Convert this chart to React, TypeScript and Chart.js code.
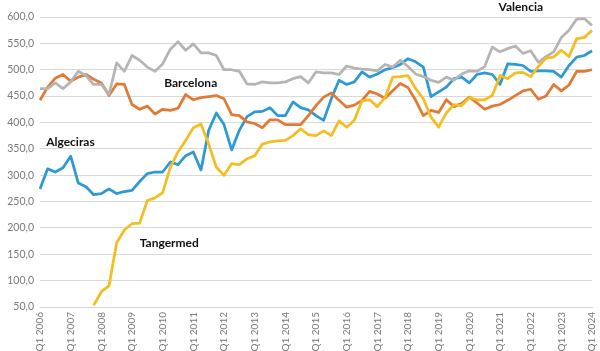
import React, { useEffect, useRef } from "react";
import { Chart, registerables } from "chart.js";

Chart.register(...registerables);

const years = [2006, 2007, 2008, 2009, 2010, 2011, 2012, 2013, 2014, 2015, 2016, 2017, 2018, 2019, 2020, 2021, 2022, 2023, 2024];
const quarterNames = ["Q1", "Q2", "Q3", "Q4"];
const categories: string[] = [];
years.forEach((y) => {
  quarterNames.forEach((q) => {
    if (y < 2024 || q === "Q1") categories.push(q + " " + y);
  });
});

const algeciras = [274, 312, 306, 314, 336, 285, 278, 263, 265, 274, 265, 269, 271, 288, 303, 306, 306, 325, 320, 337, 344, 310, 385, 418, 396, 348, 385, 411, 420, 421, 428, 413, 413, 439, 428, 424, 413, 404, 445, 480, 472, 477, 496, 486, 492, 500, 504, 510, 521, 515, 505, 449, 458, 467, 483, 486, 475, 491, 494, 491, 472, 511, 510, 508, 497, 498, 498, 497, 486, 508, 524, 527, 536];
const barcelona = [442, 467, 484, 491, 478, 486, 491, 482, 475, 451, 473, 472, 434, 425, 431, 416, 425, 423, 427, 453, 443, 447, 449, 451, 445, 415, 413, 401, 398, 390, 405, 405, 396, 396, 396, 413, 432, 448, 456, 442, 429, 433, 442, 459, 454, 446, 460, 474, 466, 442, 413, 423, 419, 443, 430, 436, 448, 437, 425, 431, 434, 442, 451, 460, 463, 444, 450, 472, 460, 471, 497, 497, 500];
const valencia = [464, 464, 475, 464, 477, 497, 489, 472, 472, 453, 513, 497, 527, 518, 505, 497, 511, 539, 553, 537, 549, 532, 532, 527, 500, 500, 497, 473, 472, 477, 475, 475, 477, 483, 487, 475, 496, 494, 494, 491, 507, 503, 501, 500, 498, 510, 505, 518, 506, 492, 487, 480, 476, 486, 480, 492, 498, 497, 506, 543, 534, 540, 545, 531, 536, 514, 525, 534, 561, 575, 596, 597, 584];
const tangermed = [null, null, null, null, null, null, null, 53, 79, 90, 172, 196, 208, 209, 252, 257, 267, 315, 344, 366, 390, 397, 359, 315, 300, 322, 320, 331, 337, 359, 363, 365, 366, 375, 388, 377, 375, 384, 375, 403, 391, 404, 441, 443, 430, 447, 486, 487, 489, 464, 445, 410, 391, 418, 434, 432, 447, 443, 443, 451, 489, 483, 494, 495, 487, 506, 522, 524, 537, 525, 559, 561, 575];

const yMin = 50;
const yMax = 600;
const yStep = 50;

// series label annotations: [text, category index, value]
const seriesLabels: [string, number, number][] = [
  ["Algeciras", 0.8, 363],
  ["Barcelona", 16.2, 474],
  ["Valencia", 59.8, 619],
  ["Tangermed", 13.0, 171],
];

const labelPlugin = {
  id: "seriesLabels",
  afterDraw(chart: any) {
    const ctx = chart.ctx;
    const xs = chart.scales.x;
    const ys = chart.scales.y;
    ctx.save();
    ctx.font = "bold 12px Lato";
    ctx.fillStyle = "#111111";
    ctx.textAlign = "left";
    ctx.textBaseline = "middle";
    seriesLabels.forEach(([t, i, v]) => {
      ctx.fillText(t, xs.getPixelForValue(i), ys.getPixelForValue(v));
    });
    ctx.restore();
  },
};

export default function App() {
  const ref = useRef<HTMLCanvasElement | null>(null);
  useEffect(() => {
    if (!ref.current) return;
    const line = (label: string, data: any[], color: string, order: number) => ({
      label,
      data,
      borderColor: color,
      backgroundColor: color,
      borderWidth: 2.75,
      pointRadius: 0,
      tension: 0,
      borderJoinStyle: "round" as const,
      spanGaps: false,
      order,
    });
    const chart = new Chart(ref.current, {
      type: "line",
      data: {
        labels: categories,
        datasets: [
          line("Algeciras", algeciras, "#2E9AD3", 3),
          line("Barcelona", barcelona, "#E27935", 2),
          line("Valencia", valencia, "#B5B5B5", 1),
          line("Tangermed", tangermed, "#F4BD22", 0),
        ],
      },
      options: {
        animation: false,
        responsive: false,
        layout: { padding: { top: 17, right: 8, left: 0, bottom: 0 } },
        plugins: { legend: { display: false }, tooltip: { enabled: false } },
        scales: {
          x: {
            offset: false,
            grid: { display: false, drawTicks: false },
            border: { display: true, color: "#d9d9d9" },
            ticks: {
              autoSkip: false,
              minRotation: 90,
              maxRotation: 90,
              padding: 5,
              color: "#7a7a7a",
              font: { family: "Lato", size: 10 },
              callback: (v: any, i: number) => (i % 4 === 0 ? categories[i] : ""),
            },
            afterFit: (s: any) => {
              s.height = 44;
              s.paddingRight = 0;
              s.paddingLeft = 0;
            },
          },
          y: {
            min: yMin,
            max: yMax,
            grid: { color: "#d9d9d9", lineWidth: 1, drawTicks: false },
            border: { display: false },
            ticks: {
              stepSize: yStep,
              padding: 6,
              color: "#7a7a7a",
              font: { family: "Lato", size: 10.5 },
              callback: (v: any) => Number(v).toFixed(1).replace(".", ","),
            },
            afterFit: (s: any) => {
              s.width = 40;
            },
          },
        },
      },
      plugins: [labelPlugin],
    });
    return () => chart.destroy();
  }, []);
  return (
    <div style={{ position: "absolute", left: 0, top: 0, width: 600, height: 351, background: "#fff" }}>
      <canvas ref={ref} width={600} height={351} />
    </div>
  );
}
